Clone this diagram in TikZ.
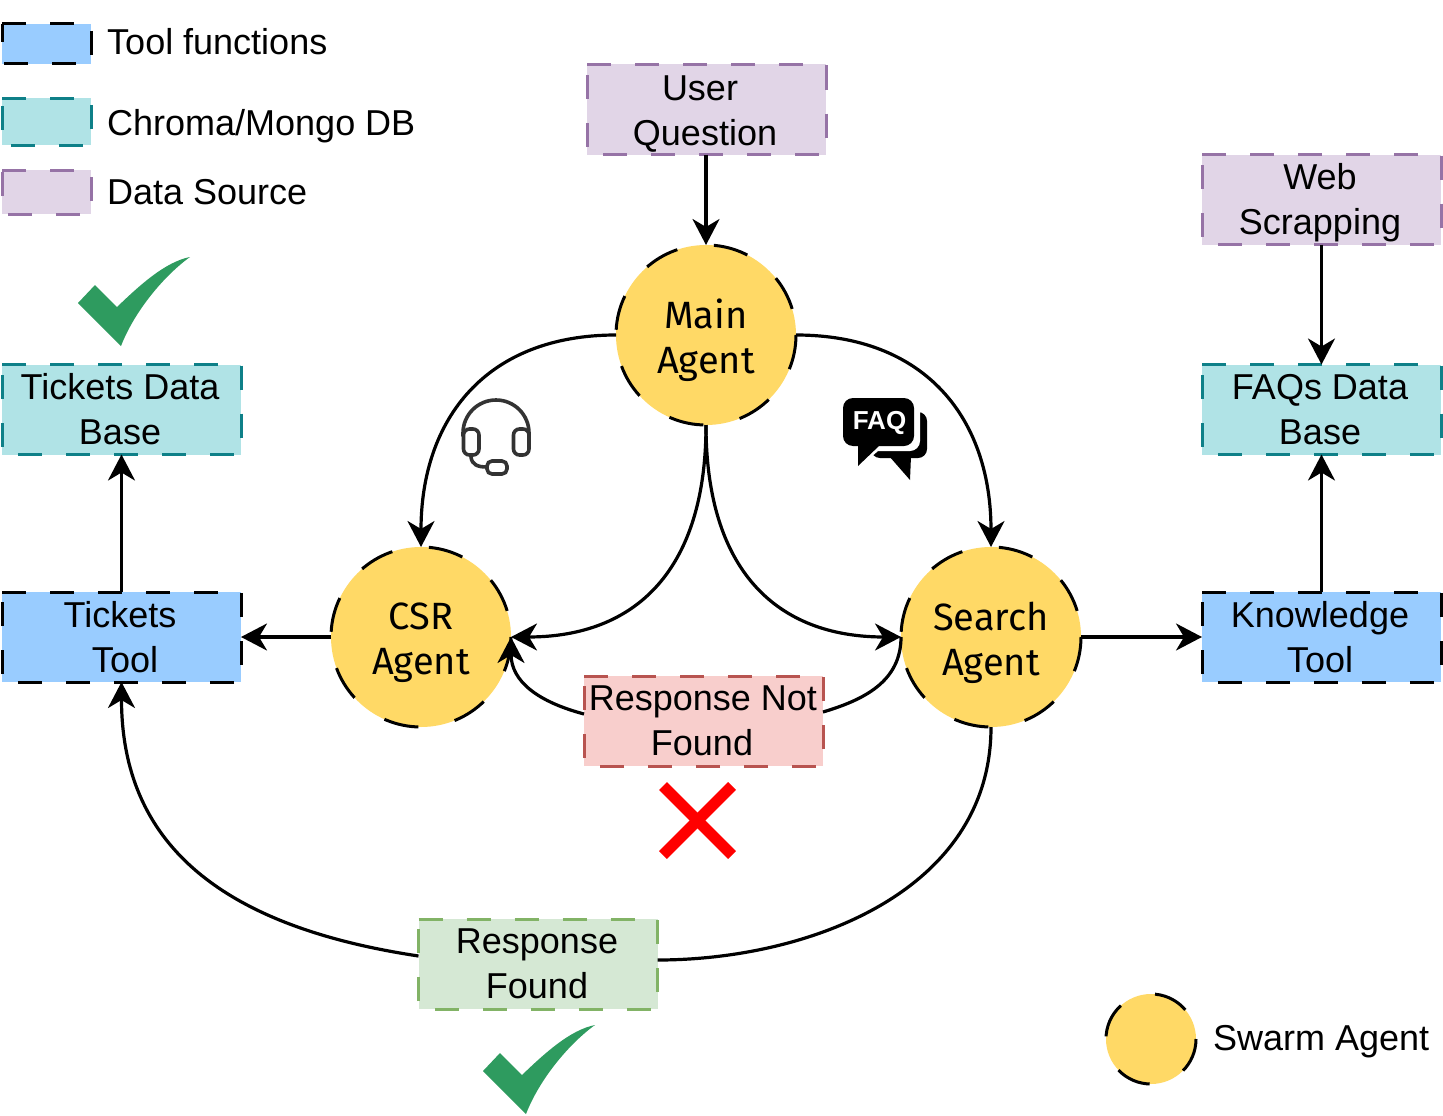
\documentclass[tikz,border=0pt]{standalone}
\usepackage{fontspec}
\setmainfont{Liberation Sans}
\newfontfamily\agentfont{Fira Sans}
\usetikzlibrary{arrows.meta}
\definecolor{toolfill}{HTML}{99CCFF}
\definecolor{dbfill}{HTML}{B0E3E6}
\definecolor{dbline}{HTML}{0E8088}
\definecolor{srcfill}{HTML}{E1D5E7}
\definecolor{srcline}{HTML}{9673A6}
\definecolor{nofill}{HTML}{F8CECC}
\definecolor{noline}{HTML}{B85450}
\definecolor{yesfill}{HTML}{D5E8D4}
\definecolor{yesline}{HTML}{82B366}
\definecolor{agentfill}{HTML}{FFD966}
\definecolor{checkgreen}{HTML}{2E9B5F}
\definecolor{iconline}{HTML}{333333}
\newcommand{\dashrect}[2]{\draw[boxline,draw=#2] (#1.north west) -- (#1.north east) -- (#1.south east) -- (#1.south west) -- cycle;}
\newcommand{\agentring}[2]{\draw[line width=3pt,dash pattern=on 35pt off 37pt] (#1.east) arc[start angle=0,end angle=360,radius=#2];}
\newcommand{\greencheck}[2]{\fill[checkgreen,shift={(#1,#2)}] (78,303) -- (95,285) -- (117,307) .. controls (140,285) and (165,262) .. (190,257) .. controls (165,275) and (135,310) .. (121,346) -- cycle;}
\newcommand{\txtline}[2]{\hspace*{#1pt}#2}
\tikzset{
  x=1pt,y=-1pt,
  boxline/.style={line width=3pt,dash pattern=on 24pt off 24pt},
  databox/.style={fill=#1,minimum width=239pt,minimum height=90pt,inner sep=0pt,outer sep=0pt,align=center,font=\fontsize{36}{45}\selectfont},
  legendbox/.style={fill=#1,inner sep=0pt,outer sep=0pt,minimum width=89pt},
  legendtext/.style={anchor=west,inner sep=0pt,font=\fontsize{36}{45}\selectfont},
  agentnode/.style={circle,fill=agentfill,minimum size=180pt,inner sep=0pt,outer sep=0pt},
  agenttext/.style={inner sep=0pt,align=center,font=\fontsize{38}{45}\agentfont\selectfont},
  conn/.style={line width=3.2pt,-{Stealth[length=26pt,width=27pt,inset=8pt]}},
  plainconn/.style={line width=3.2pt},
  icon/.style={line width=3.6pt,draw=iconline,fill=none},
}
\begin{document}
\begin{tikzpicture}
\path[use as bounding box,fill=white] (0,0) rectangle (1443,1116);

% legend
\node[legendbox=toolfill,minimum height=40pt] (lt) at (46.5,44) {};
\node[legendbox=dbfill,minimum height=47pt] (ld) at (46.5,121.5) {};
\node[legendbox=srcfill,minimum height=44pt] (ls) at (46.5,192) {};
\dashrect{lt}{black}\dashrect{ld}{dbline}\dashrect{ls}{srcline}
\node[legendtext] (ltt) at (107,42) {Tool functions};
\node[legendtext] (ldt) at (107,126) {Chroma/Mongo DB};
\node[legendtext] (lst) at (107,192) {Data Source};

% boxes
\node[databox=srcfill] (question) at (706.5,109.5) {\rule{0pt}{34pt}\txtline{-13}{User}\\ \txtline{-3}{Question}};
\node[databox=srcfill] (web) at (1321.5,199.5) {\rule{0pt}{32pt}\txtline{-3}{Web}\\ \txtline{-3}{Scrapping}};
\node[databox=dbfill] (faq) at (1321.5,409.5) {\txtline{-3}{FAQs Data}\\ \txtline{-3}{Base}};
\node[databox=toolfill] (know) at (1321.5,637) {\txtline{-3}{Knowledge}\\ \txtline{-3}{Tool}};
\node[databox=dbfill] (tickdb) at (121.5,409.5) {\txtline{-3}{Tickets Data}\\ \txtline{-3}{Base}};
\node[databox=toolfill] (tick) at (121.5,637) {\txtline{-3}{Tickets}\\ \txtline{7}{Tool}};
\node[databox=nofill] (notfound) at (703.5,721) {\txtline{-1}{Response Not}\\ \txtline{-3}{Found}};
\node[databox=yesfill] (found) at (538,964) {\txtline{-2}{Response}\\ \txtline{-2}{Found}};
\dashrect{question}{srcline}\dashrect{web}{srcline}
\dashrect{faq}{dbline}\dashrect{know}{black}
\dashrect{tickdb}{dbline}\dashrect{tick}{black}
\dashrect{notfound}{noline}\dashrect{found}{yesline}

% agents
\node[agentnode] (main) at (706,335) {};
\node[agentnode] (csr) at (421,637) {};
\node[agentnode] (search) at (991,637) {};
\node[agenttext,yshift=-5pt] (maint) at (main) {Main\\ Agent};
\node[agenttext,yshift=-6pt] (csrt) at (csr) {CSR\\ Agent};
\node[agenttext,yshift=-6pt] (searcht) at (search) {Search\\ Agent};
\node[circle,fill=agentfill,minimum size=90pt,inner sep=0pt,outer sep=0pt] (lagent) at (1151,1039) {};
\agentring{main}{90}\agentring{csr}{90}\agentring{search}{90}\agentring{lagent}{45}
\node[legendtext] (lat) at (1213,1042) {Swarm Agent};

% connectors
\draw[conn] (question.south -| main.north) -- (main.north);
\draw[conn] (main.west) .. controls +(-130,0) and +(0,-128) .. (csr.north);
\draw[conn] (main.east) .. controls +(130,0) and +(0,-128) .. (search.north);
\draw[conn] (main.south) .. controls +(0,145) and +(125,0) .. (csr.east);
\draw[conn] (main.south) .. controls +(0,145) and +(-125,0) .. (search.west);
\draw[conn] (csr.west) -- (tick.east);
\draw[conn] (search.east) -- (know.west);
\draw[conn] (know.north) -- (faq.south);
\draw[conn] (web.south) -- (faq.north);
\draw[conn] (tick.north) -- (tickdb.south);
\draw[conn] ([yshift=7pt]notfound.west) .. controls +(-45,-12) and +(0,45) .. (csr.east);
\draw[plainconn] (search.west) .. controls +(0,45) and +(40,-12) .. ([yshift=9pt]notfound.east);
\draw[plainconn] (search.south) .. controls +(0,165) and +(150,0) .. ([yshift=4pt]found.east);
\draw[conn] ([yshift=8pt]found.west) .. controls +(-200,-30) and +(0,160) .. (tick.south);

% marks
\greencheck{0}{0}
\greencheck{405}{768}
\draw[red,line width=11pt] (663,786) -- (732,855);
\draw[red,line width=11pt] (732,786) -- (663,855);

% headset icon
\draw[icon,line cap=round] (463,436) -- (463,433) arc[start angle=180,end angle=360,radius=33] -- (529,436);
\draw[icon,rounded corners=6pt] (463.5,429) rectangle (479,455);
\draw[icon,rounded corners=6pt] (513.5,429) rectangle (529,455);
\draw[icon,line cap=round] (471,457) .. controls (472,465) and (478,467) .. (487,467);
\draw[icon,rounded corners=5pt] (487,461) rectangle (507,474);

% FAQ icon
\fill[black,rounded corners=9pt] (871,412) -- (927,412) -- (927,458) -- (871,458) -- cycle;
\fill[black] (889,456) -- (911,456) -- (910,480) -- cycle;
\fill[white,rounded corners=10pt] (840,395) -- (920,395) -- (920,451) -- (840,451) -- cycle;
\fill[white] (852,444) -- (886,444) -- (854,472) -- cycle;
\fill[black,rounded corners=10pt] (843,398) -- (914,398) -- (914,446) -- (843,446) -- cycle;
\fill[black] (858,440) -- (880,445) -- (858,466) -- cycle;
\node[text=white,inner sep=0pt,font=\fontsize{26}{30}\bfseries\selectfont] (faqtext) at (879.5,423) {FAQ};
\end{tikzpicture}
\end{document}
